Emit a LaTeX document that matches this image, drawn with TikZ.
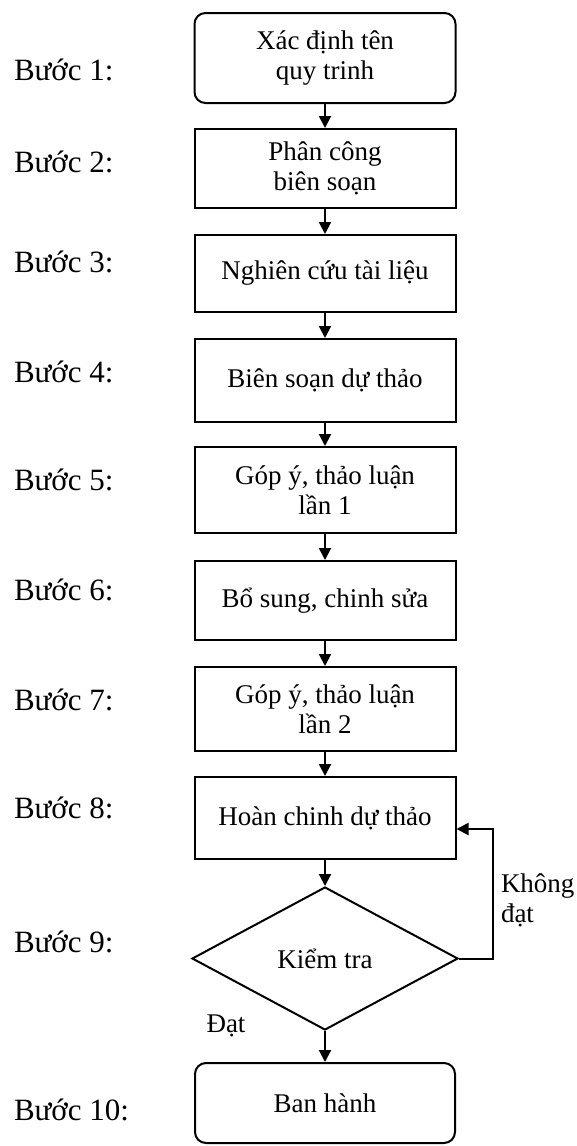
\documentclass[tikz,border=0pt]{standalone}
\usepackage{fontspec}
\setmainfont{Liberation Serif}
\usetikzlibrary{shapes.geometric,arrows.meta}
\begin{document}
\begin{tikzpicture}[x=0.5pt,y=-0.5pt,line width=1pt,
  every node/.style={font=\fontsize{13.5}{15}\selectfont},
  box/.style={draw,rectangle,minimum width=130.5pt,align=center,inner sep=0pt},
  rbox/.style={box,rounded corners=5.5pt},
  dia/.style={draw,diamond,minimum width=133pt,minimum height=71.5pt,inner sep=0pt},
  stepnum/.style={anchor=west,inner sep=0pt,font=\fontsize{15.5}{18}\selectfont},
  arr/.style={-{Triangle[width=6pt,length=6pt]}}]
\useasboundingbox (0,0) rectangle (577,1146);
\node[rbox,minimum height=45pt] (b1) at (325,58) {Xác định tên\\quy trinh};
\node[box,minimum height=39.5pt] (b2) at (325,168.5) {Phân công\\biên soạn};
\node[box,minimum height=38.5pt] (b3) at (325,273.5) {Nghiên cứu tài liệu};
\node[box,minimum height=41.5pt] (b4) at (325,380.5) {Biên soạn dự thảo};
\node[box,minimum height=43pt] (b5) at (325,490) {Góp ý, thảo luận\\lần 1};
\node[box,minimum height=39.5pt] (b6) at (325,600.5) {Bổ sung, chinh sửa};
\node[box,minimum height=42pt] (b7) at (325,709) {Góp ý, thảo luận\\lần 2};
\node[box,minimum height=41pt] (b8) at (325,818) {Hoàn chinh dự thảo};
\node[dia] (b9) at (325,958.5) {Kiểm tra};
\node[rbox,minimum width=130pt,minimum height=40pt] (b10) at (325,1103) {Ban hành};
\coordinate (loop) at (493,829);
\node[stepnum] (s1) at (13,70) {Bước 1:};
\node[stepnum] (s2) at (13,162) {Bước 2:};
\node[stepnum] (s3) at (13,262) {Bước 3:};
\node[stepnum] (s4) at (13,372) {Bước 4:};
\node[stepnum] (s5) at (13,480) {Bước 5:};
\node[stepnum] (s6) at (13,590) {Bước 6:};
\node[stepnum] (s7) at (13,700) {Bước 7:};
\node[stepnum] (s8) at (13,808) {Bước 8:};
\node[stepnum] (s9) at (13,942) {Bước 9:};
\node[stepnum] (s10) at (13,1110) {Bước 10:};
\node[anchor=west,align=left,inner sep=0pt] (nok) at (500,900) {Không\\đạt};
\node[inner sep=0pt] (ok) at (226,1026) {Đạt};
\draw[arr] (b1) -- (b2);
\draw[arr] (b2) -- (b3);
\draw[arr] (b3) -- (b4);
\draw[arr] (b4) -- (b5);
\draw[arr] (b5) -- (b6);
\draw[arr] (b6) -- (b7);
\draw[arr] (b7) -- (b8);
\draw[arr] (b8) -- (b9);
\draw[arr] (b9) -- (b10);
\draw[arr] (b9.east) -| (loop) -- (loop -| b8.east);
\end{tikzpicture}
\end{document}
